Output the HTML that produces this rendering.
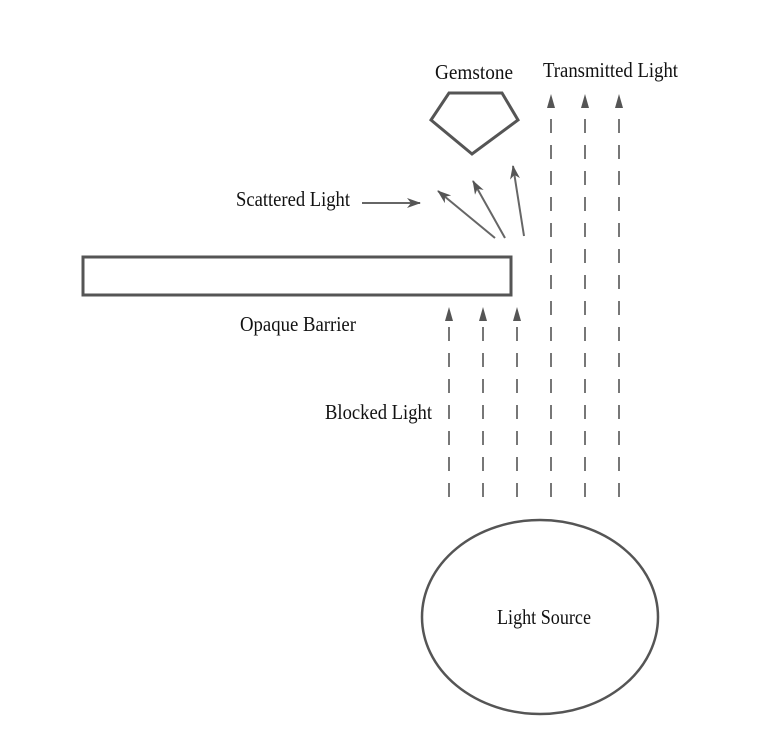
<!DOCTYPE html>
<html><head><style>body{margin:0;background:#fff}svg{display:block}</style></head><body>
<svg width="768" height="750" viewBox="0 0 768 750" xmlns="http://www.w3.org/2000/svg">
<defs>
<marker id="a" viewBox="0 0 14 10" refX="13" refY="5" markerWidth="14" markerHeight="10" orient="auto" markerUnits="userSpaceOnUse"><path d="M0,0 L14,5 L0,10 L4,5 z" fill="#555"/></marker>
</defs>
<g font-family="Liberation Serif, serif" font-size="21" fill="#111">
<text x="474" y="79" text-anchor="middle" textLength="78" lengthAdjust="spacingAndGlyphs">Gemstone</text>
<text x="543" y="77" textLength="135" lengthAdjust="spacingAndGlyphs">Transmitted Light</text>
<text x="236" y="206" textLength="114" lengthAdjust="spacingAndGlyphs">Scattered Light</text>
<text x="240" y="331" textLength="116" lengthAdjust="spacingAndGlyphs">Opaque Barrier</text>
<text x="325" y="419" textLength="107" lengthAdjust="spacingAndGlyphs">Blocked Light</text>
<text x="497" y="624" textLength="94" lengthAdjust="spacingAndGlyphs">Light Source</text>
</g>
<g stroke="#555" fill="none" stroke-width="3">
<rect x="83" y="257" width="428" height="38"/>
<polygon points="449,93 502,93 518,120 472,154 431,120"/>
<ellipse cx="540" cy="617" rx="118" ry="97" stroke-width="2.5"/>
</g>
<g stroke="#666" stroke-width="2">
<line x1="362" y1="203" x2="420" y2="203" marker-end="url(#a)"/>
<line x1="495" y1="238" x2="438" y2="191" marker-end="url(#a)"/>
<line x1="505" y1="238" x2="473" y2="181" marker-end="url(#a)"/>
<line x1="524" y1="236" x2="513" y2="166" marker-end="url(#a)"/>
</g>
<g stroke="#777" stroke-width="2" stroke-dasharray="14 12">
<line x1="449" y1="497" x2="449" y2="323"/>
<line x1="483" y1="497" x2="483" y2="323"/>
<line x1="517" y1="497" x2="517" y2="323"/>
<line x1="551" y1="497" x2="551" y2="110"/>
<line x1="585" y1="497" x2="585" y2="110"/>
<line x1="619" y1="497" x2="619" y2="110"/>
</g>
<g fill="#555">
<path d="M449,307 l-4,14 l8,0 z"/><path d="M483,307 l-4,14 l8,0 z"/><path d="M517,307 l-4,14 l8,0 z"/>
<path d="M551,94 l-4,14 l8,0 z"/><path d="M585,94 l-4,14 l8,0 z"/><path d="M619,94 l-4,14 l8,0 z"/>
</g>
</svg>
</body></html>
